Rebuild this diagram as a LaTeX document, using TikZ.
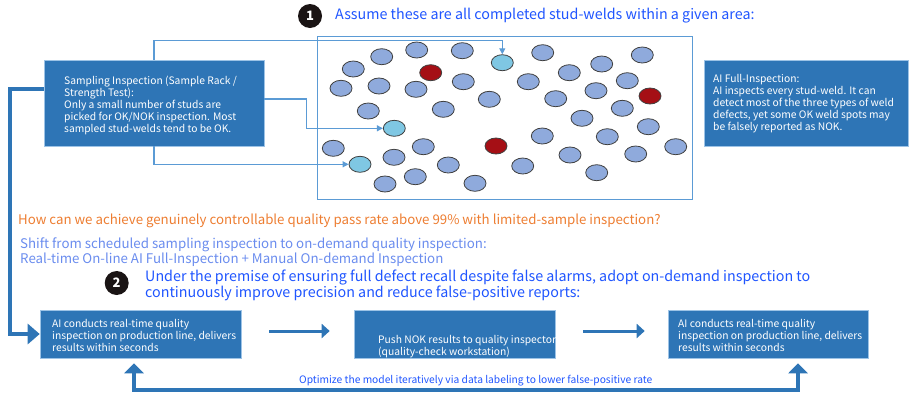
\documentclass[tikz,border=0pt]{standalone}
\usepackage{fontspec}
\setmainfont{Noto Sans CJK SC}
\usetikzlibrary{arrows.meta,shapes.geometric}
\definecolor{boxblue}{HTML}{2E75B6}
\definecolor{boxedge}{HTML}{9DC3E6}
\definecolor{lineblue}{HTML}{5B9BD5}
\definecolor{titleblue}{HTML}{1F55FF}
\definecolor{orangetxt}{HTML}{ED7D31}
\definecolor{softblue}{HTML}{6A8CEE}
\definecolor{studfill}{HTML}{8FAADC}
\definecolor{studred}{HTML}{A50F15}
\definecolor{studcyan}{HTML}{7FC7E3}
\definecolor{numblack}{HTML}{1A1414}
\begin{document}
\begin{tikzpicture}[x=1pt,y=-1pt,
  stud/.style={ellipse,draw=black!75,line width=0.8pt,fill=studfill,minimum width=22pt,minimum height=16pt,inner sep=0pt},
  redstud/.style={stud,fill=studred},
  cyanstud/.style={stud,fill=studcyan},
  bluebox/.style={rectangle,fill=boxblue,draw=boxedge,line width=0.6pt,inner sep=0pt},
  boxtext/.style={anchor=north west,align=left,inner sep=0pt,text=white,font=\fontsize{10.3}{12}\selectfont},
  conn/.style={draw=lineblue,line width=1.2pt},
  connarrow/.style={conn,-{Triangle[length=6pt,width=6pt]}},
  thickline/.style={draw=boxblue,line width=4pt},
  midarrow/.style={draw=boxblue,line width=3pt,-{Triangle[length=8pt,width=14pt]}},
  numcircle/.style={circle,fill=numblack,minimum size=24pt,inner sep=0pt,text=white,font=\fontsize{13}{13}\selectfont\bfseries},
  ttl/.style={anchor=base west,inner sep=0pt}
]
\path[use as bounding box] (0,0) rectangle (909,397);

% stud area
\node[draw=lineblue,line width=1pt,minimum width=375pt,minimum height=163pt,inner sep=0pt] (area) at (504.5,117.5) {};

% studs
\node[stud] (s1) at (381.7,56.7) {};
\node[stud] (s2) at (416.7,50) {};
\node[stud] (s3) at (462.3,50.7) {};
\node[cyanstud] (c4) at (502.3,62.7) {};
\node[stud] (s5) at (542.7,52.7) {};
\node[stud] (s6) at (642.3,55) {};
\node[stud] (s7) at (353.3,69) {};
\node[redstud] (r8) at (430.7,72.7) {};
\node[stud] (s9) at (601.7,64) {};
\node[stud] (s10) at (569.3,72.7) {};
\node[stud] (s11) at (341,88.3) {};
\node[stud] (s12) at (379,86) {};
\node[stud] (s13) at (416,89.3) {};
\node[stud] (s14) at (463.3,81.7) {};
\node[stud] (s15) at (528.3,81.7) {};
\node[stud] (s16) at (627.3,80.7) {};
\node[stud] (s17) at (596,90.7) {};
\node[redstud] (r18) at (650,96) {};
\node[stud] (s19) at (489.3,99.3) {};
\node[stud] (s20) at (555.7,98.7) {};
\node[stud] (s21) at (368.3,111) {};
\node[stud] (s22) at (443.3,109.3) {};
\node[stud] (s23) at (622.3,108.3) {};
\node[stud] (s24) at (582,118.3) {};
\node[cyanstud] (c25) at (394.3,128.3) {};
\node[stud] (s26) at (648.3,126.7) {};
\node[stud] (s27) at (542.3,136) {};
\node[stud] (s28) at (607.3,136.7) {};
\node[stud] (s29) at (333.3,148.3) {};
\node[stud] (s30) at (423.3,146.7) {};
\node[redstud] (r31) at (496,146) {};
\node[stud] (s32) at (675.7,146.7) {};
\node[stud] (s33) at (394,157.3) {};
\node[cyanstud] (c34) at (360,164.3) {};
\node[stud] (s35) at (448.3,165) {};
\node[stud] (s36) at (570,155) {};
\node[stud] (s37) at (635.7,154) {};
\node[stud] (s38) at (522.7,166) {};
\node[stud] (s39) at (415.3,176.7) {};
\node[stud] (s40) at (385,184) {};
\node[stud] (s41) at (475,183.3) {};
\node[stud] (s42) at (596.7,172.7) {};

% title 1
\node[numcircle] (n1) at (310,16) {1};
\node[ttl,text=titleblue,font=\fontsize{14.3}{16}\selectfont] (t1) at (335,19.5) {Assume these are all completed stud-welds within a given area:};

% sampling box
\node[bluebox,minimum width=220pt,minimum height=86pt] (samp) at (154,103) {};
\node[boxtext] (samptext) at (64,75.5) {Sampling Inspection (Sample Rack /\\Strength Test):\\Only a small number of studs are\\picked for OK/NOK inspection. Most\\sampled stud-welds tend to be OK.};

% AI full box
\node[bluebox,minimum width=204pt,minimum height=86pt] (aibox) at (806,103) {};
\node[boxtext] (aitext) at (713,74.5) {AI Full-Inspection:\\AI inspects every stud-weld. It can\\detect most of the three types of weld\\defects, yet some OK weld spots may\\be falsely reported as NOK.};

% connectors to cyan studs
\draw[connarrow] (samp.north) -- ++(0,-19) -| (c4.north);
\draw[connarrow] ([yshift=4pt]samp.east) -- ++(42,0) |- (c25.west);
\draw[connarrow] (samp.south) |- (c34.west);

% middle texts
\node[ttl,text=orangetxt,font=\fontsize{13.27}{15}\selectfont] (q) at (18,224) {How can we achieve genuinely controllable quality pass rate above 99\% with limited-sample inspection?};
\node[ttl,text=softblue,font=\fontsize{13.3}{15}\selectfont] (shift1) at (20,248) {Shift from scheduled sampling inspection to on-demand quality inspection:};
\node[ttl,text=softblue,font=\fontsize{13.3}{15}\selectfont] (shift2) at (20,263) {Real-time On-line AI Full-Inspection + Manual On-demand Inspection};
\node[numcircle] (n2) at (116.7,283) {2};
\node[ttl,text=titleblue,font=\fontsize{14.3}{16}\selectfont] (u1) at (145,281.5) {Under the premise of ensuring full defect recall despite false alarms, adopt on-demand inspection to};
\node[ttl,text=titleblue,font=\fontsize{14.3}{16}\selectfont] (u2) at (145,297) {continuously improve precision and reduce false-positive reports:};

% bottom boxes
\node[bluebox,minimum width=201pt,minimum height=48pt] (box1) at (140.5,334) {};
\node[boxtext] (b1text) at (52,319.5) {AI conducts real-time quality\\inspection on production line, delivers\\results within seconds};
\node[bluebox,minimum width=201pt,minimum height=48pt] (box2) at (454.5,334) {};
\node[boxtext] (b2text) at (378,335.5) {Push NOK results to quality inspector\\(quality-check workstation)};
\node[bluebox,minimum width=200pt,minimum height=48pt] (box3) at (768,334) {};
\node[boxtext] (b3text) at (678,319.5) {AI conducts real-time quality\\inspection on production line, delivers\\results within seconds};

% thick connectors
\draw[thickline,-{Triangle[length=12pt,width=20pt]}] ([yshift=14pt]samp.west) -- (9.5,89) |- (box1.west);
\draw[midarrow] ([xshift=28pt,yshift=3pt]box1.east) -- ([xshift=-24pt,yshift=3pt]box2.west);
\draw[midarrow] ([xshift=28pt,yshift=3pt]box2.east) -- ([xshift=-23pt,yshift=3pt]box3.west);
\draw[thickline,{Triangle[length=10pt,width=19pt]}-{Triangle[length=10pt,width=19pt]}] ([xshift=-6.5pt,yshift=-5pt]box1.south) -- ++(0,27) -| ([xshift=30pt,yshift=-5pt]box3.south);
\node[ttl,text=titleblue,font=\fontsize{10.25}{12}\selectfont] (opt) at (299,383) {Optimize the model iteratively via data labeling to lower false-positive rate};
\end{tikzpicture}
\end{document}
